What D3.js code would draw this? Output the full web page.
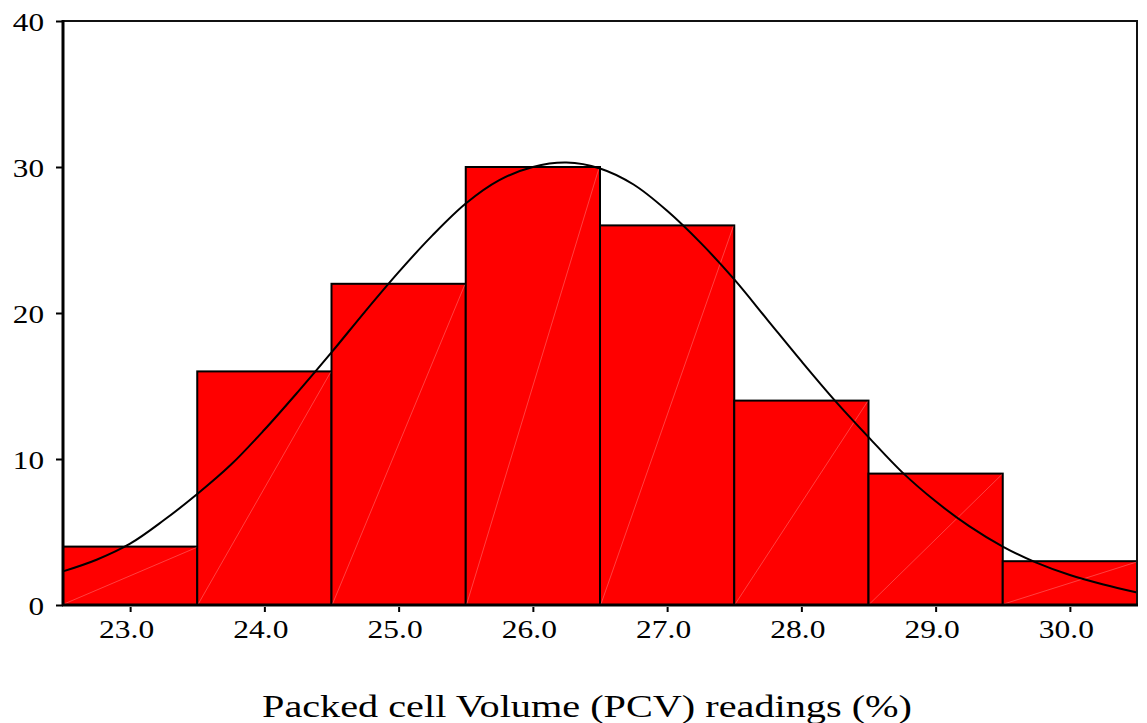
<!DOCTYPE html>
<html>
<head>
<meta charset="utf-8">
<script src="https://cdn.jsdelivr.net/npm/d3@7"></script>
<style>
  body { margin: 0; background: #fff; }
  svg { display: block; }
  text { font-family: "Liberation Serif", "Times New Roman", serif; fill: #000; }
</style>
</head>
<body>
<svg id="chart" width="1147" height="723"></svg>
<script>
// histogram bins (midpoints) and counts
var binMids = [23, 24, 25, 26, 27, 28, 29, 30];
var counts = [4, 16, 22, 30, 26, 14, 9, 3];
var xTicks = [23, 24, 25, 26, 27, 28, 29, 30];
var yTicks = [0, 10, 20, 30, 40];

// normal curve, every 0.25
var curveX = [22.5, 22.75, 23, 23.25, 23.5, 23.75, 24, 24.25, 24.5, 24.75, 25, 25.25, 25.5, 25.75,
  26, 26.25, 26.5, 26.75, 27, 27.25, 27.5, 27.75, 28, 28.25, 28.5, 28.75, 29, 29.25, 29.5, 29.75,
  30, 30.25, 30.5];
var curveY = [2.3, 3.1, 4.2, 5.8, 7.6, 9.6, 12.0, 14.6, 17.3, 20.1, 22.8, 25.3, 27.5, 29.1,
  30.0, 30.3, 29.9, 28.8, 27.0, 24.8, 22.3, 19.5, 16.7, 14.0, 11.5, 9.1, 7.1, 5.4, 4.0, 2.9,
  2.05, 1.4, 0.85];

var xLabel = "Packed cell Volume (PCV) readings (%)";

var svg = d3.select("#chart");
var mLeft = 63, mRight = 1137, mTop = 21, mBottom = 605;

var x = d3.scaleLinear().domain([22.5, 30.5]).range([mLeft, mRight]);
var y = d3.scaleLinear().domain([0, 40]).range([mBottom, mTop]);

// bars
var bars = svg.append("g").attr("class", "bars");
bars.selectAll("rect")
  .data(binMids)
  .enter().append("rect")
  .attr("x", d => x(d - 0.5))
  .attr("y", (d, i) => y(counts[i]))
  .attr("width", d => x(d + 0.5) - x(d - 0.5))
  .attr("height", (d, i) => y(0) - y(counts[i]))
  .style("fill", "#ff0000")
  .style("stroke", "#000")
  .style("stroke-width", "2px");

// faint diagonal seams seen inside each bar
bars.selectAll("line.seam")
  .data(binMids)
  .enter().append("line")
  .attr("class", "seam")
  .attr("x1", d => x(d - 0.5) + 1)
  .attr("y1", y(0) - 1)
  .attr("x2", d => x(d + 0.5) - 1)
  .attr("y2", (d, i) => y(counts[i]) + 1)
  .style("stroke", "#ff9a9a")
  .style("stroke-width", "0.6px")
  .style("opacity", 0.7);

// normal curve
var line = d3.line()
  .x(d => x(d[0]))
  .y(d => y(d[1]))
  .curve(d3.curveCatmullRom);

svg.append("path")
  .datum(curveX.map((v, i) => [v, curveY[i]]))
  .attr("d", line)
  .style("fill", "none")
  .style("stroke", "#000")
  .style("stroke-width", "2px");

// frame
svg.append("rect")
  .attr("x", mLeft).attr("y", mTop)
  .attr("width", mRight - mLeft).attr("height", mBottom - mTop)
  .style("fill", "none")
  .style("stroke", "#111")
  .style("stroke-width", "2px");
svg.append("line")
  .attr("x1", mLeft).attr("y1", mTop - 1).attr("x2", mLeft).attr("y2", mBottom + 1)
  .style("stroke", "#000").style("stroke-width", "3px");
svg.append("line")
  .attr("x1", mLeft - 1).attr("y1", mBottom).attr("x2", mRight + 1).attr("y2", mBottom)
  .style("stroke", "#000").style("stroke-width", "3px");

// y axis
var yAxis = svg.append("g")
  .attr("transform", "translate(" + mLeft + ",0)")
  .call(d3.axisLeft(y).tickValues(yTicks).tickSize(7).tickFormat(d3.format("d")));
yAxis.select(".domain").remove();
yAxis.selectAll(".tick line").style("stroke", "#000").style("stroke-width", "2px");
yAxis.selectAll(".tick text")
  .attr("x", -19 / 1.2)
  .attr("dy", "0.36em")
  .attr("transform", "scale(1.2,1)")
  .style("font-size", "26px")
  .style("text-anchor", "end");

// x axis
var xAxis = svg.append("g")
  .attr("transform", "translate(0," + (mBottom + 2) + ")")
  .call(d3.axisBottom(x).tickValues(xTicks).tickSize(5).tickFormat(d3.format(".1f")));
xAxis.select(".domain").remove();
xAxis.selectAll(".tick line").style("stroke", "#000").style("stroke-width", "2px");
xAxis.selectAll(".tick text")
  .attr("x", -4 / 1.26)
  .attr("y", 31)
  .attr("dy", 0)
  .attr("transform", "scale(1.26,1)")
  .style("font-size", "25px")
  .style("text-anchor", "middle");

// axis title
svg.append("text")
  .attr("x", 262)
  .attr("y", 717)
  .attr("textLength", 650)
  .attr("lengthAdjust", "spacingAndGlyphs")
  .style("font-size", "32px")
  .text(xLabel);
</script>
</body>
</html>
